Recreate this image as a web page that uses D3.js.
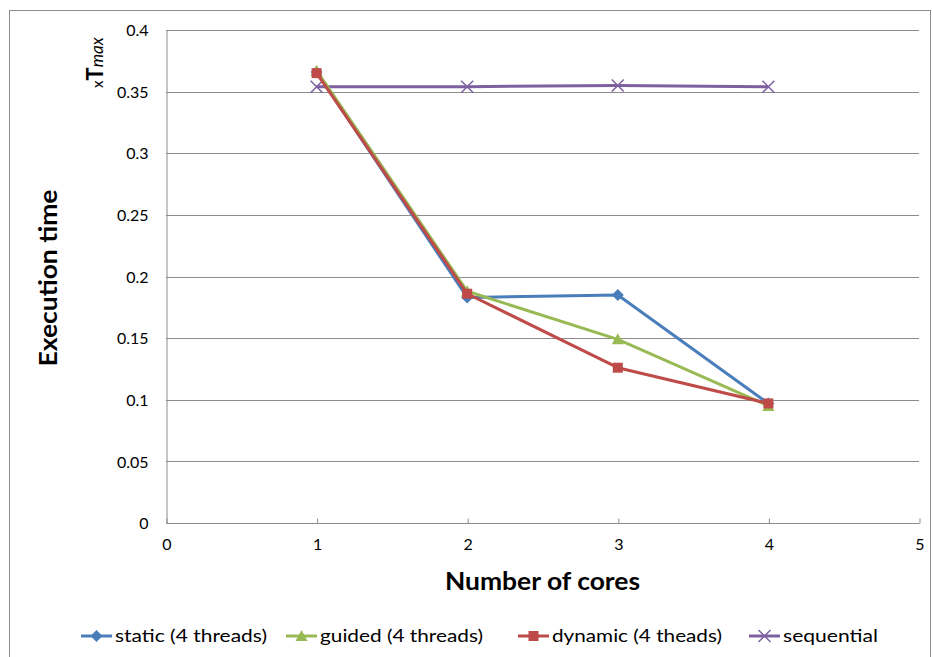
<!DOCTYPE html>
<html>
<head>
<meta charset="utf-8">
<script src="https://cdn.jsdelivr.net/npm/d3@7"></script>
<style>
body { margin: 0; background: #fff; }
svg text { font-family: Lato, "Open Sans", sans-serif; fill: #000; }
</style>
</head>
<body>
<div id="chart"></div>
<script>
var cores = [1, 2, 3, 4]
var staticVals = [0.366, 0.183, 0.185, 0.097]
var guidedVals = [0.367, 0.188, 0.149, 0.095]
var dynamicVals = [0.365, 0.186, 0.126, 0.097]
var sequentialVals = [0.354, 0.354, 0.355, 0.354]
var seriesNames = ['static (4 threads)', 'guided (4 threads)', 'dynamic (4 theads)', 'sequential']
var seriesColors = ['#4a7ebb', '#98b954', '#be4b48', '#7d60a0']
var seriesMarkers = ['diamond', 'triangle', 'square', 'cross']
var yTicks = [0, 0.05, 0.1, 0.15, 0.2, 0.25, 0.3, 0.35, 0.4]
var xTicks = [0, 1, 2, 3, 4, 5]

var W = 933, H = 657
var svg = d3.select('#chart').append('svg').attr('width', W).attr('height', H)

// outer chart border
svg.append('rect').attr('x', 9.5).attr('y', 10.5).attr('width', 921).attr('height', 660)
	.attr('fill', 'none').attr('stroke', '#8c8c8c')

var x = d3.scaleLinear().domain([0, 5]).range([166, 919])
var y = d3.scaleLinear().domain([0, 0.4]).range([523, 30])

// gridlines
svg.append('g').selectAll('line').data(yTicks.slice(1)).enter().append('line')
	.attr('x1', x(0)).attr('x2', x(5))
	.attr('y1', function(d){ return Math.round(y(d)) + 0.5 })
	.attr('y2', function(d){ return Math.round(y(d)) + 0.5 })
	.attr('stroke', '#8c8c8c').attr('stroke-width', 1)

// axes
var yAxis = svg.append('g').attr('transform', 'translate(' + (x(0) + 0.5) + ',0.5)')
	.call(d3.axisLeft(y).tickValues(yTicks).tickSize(0).tickPadding(18).tickFormat(function(d){ return d === 0 ? '0' : String(+d.toFixed(2)) }))
var xAxis = svg.append('g').attr('transform', 'translate(0.5,' + (y(0) + 0.5) + ')')
	.call(d3.axisBottom(x).tickValues(xTicks).tickSize(5).tickPadding(10).tickFormat(d3.format('d')))
;[yAxis, xAxis].forEach(function(a){
	a.select('.domain').attr('stroke', '#8c8c8c')
	a.selectAll('.tick line').attr('stroke', '#8c8c8c')
	a.selectAll('.tick text').style('font-size', '16px').attr('fill', '#000')
})
xAxis.selectAll('.tick line').attr('y1', 0).attr('y2', -5)
xAxis.select('.domain').attr('d', 'M' + x(0) + ',0H' + x(5))

// axis titles
svg.append('text').attr('transform', 'translate(57,' + 278 + ') rotate(-90)')
	.attr('text-anchor', 'middle').style('font-size', '24px').style('font-weight', 'bold')
	.attr('textLength', 177).attr('lengthAdjust', 'spacingAndGlyphs')
	.text('Execution time')
svg.append('text').attr('x', (x(0) + x(5)) / 2).attr('y', 590)
	.attr('text-anchor', 'middle').style('font-size', '24px').style('font-weight', 'bold')
	.attr('textLength', 195).attr('lengthAdjust', 'spacingAndGlyphs')
	.text('Number of cores')

// xTmax unit label
var unit = svg.append('text').attr('transform', 'translate(103,88) rotate(-90)')
unit.append('tspan').style('font-size', '15px').text('x')
unit.append('tspan').style('font-size', '22px').style('font-weight', 'bold').text('T')
unit.append('tspan').style('font-size', '17px').style('font-style', 'italic').text('max')

var allSeries = [staticVals, guidedVals, dynamicVals, sequentialVals]
var line = d3.line().x(function(d, i){ return x(cores[i]) }).y(function(d){ return y(d) })

function drawMarker(g, kind, cx, cy, color) {
	if (kind === 'diamond') {
		g.append('path').attr('d', 'M' + cx + ',' + (cy - 6) + 'L' + (cx + 6) + ',' + cy + 'L' + cx + ',' + (cy + 6) + 'L' + (cx - 6) + ',' + cy + 'Z').attr('fill', color)
	} else if (kind === 'triangle') {
		g.append('path').attr('d', 'M' + cx + ',' + (cy - 6) + 'L' + (cx + 6) + ',' + (cy + 5) + 'L' + (cx - 6) + ',' + (cy + 5) + 'Z').attr('fill', color)
	} else if (kind === 'square') {
		g.append('rect').attr('x', cx - 5).attr('y', cy - 5).attr('width', 10).attr('height', 10).attr('fill', color)
	} else {
		g.append('path').attr('d', 'M' + (cx - 6) + ',' + (cy - 6) + 'L' + (cx + 6) + ',' + (cy + 6) + 'M' + (cx + 6) + ',' + (cy - 6) + 'L' + (cx - 6) + ',' + (cy + 6))
			.attr('stroke', color).attr('stroke-width', 1.5).attr('fill', 'none')
	}
}

var drawOrder = [3, 0, 1, 2]
drawOrder.forEach(function(si){
	var g = svg.append('g')
	g.append('path').datum(allSeries[si]).attr('d', line)
		.attr('fill', 'none').attr('stroke', seriesColors[si]).attr('stroke-width', 3).attr('stroke-linejoin', 'round')
	allSeries[si].forEach(function(v, i){
		drawMarker(g, seriesMarkers[si], x(cores[i]), y(v), seriesColors[si])
	})
})

// legend
var legendX = [81, 286, 518, 749]
var legendW = [152, 163, 170, 95]
var legend = svg.append('g')
seriesNames.forEach(function(name, i){
	var lx = legendX[i], ly = 636
	legend.append('line').attr('x1', lx).attr('x2', lx + 31).attr('y1', ly).attr('y2', ly)
		.attr('stroke', seriesColors[i]).attr('stroke-width', 3)
	drawMarker(legend, seriesMarkers[i], lx + 15.5, ly, seriesColors[i])
	legend.append('text').attr('x', lx + 34).attr('y', ly + 6).style('font-size', '18px')
		.attr('textLength', legendW[i]).attr('lengthAdjust', 'spacingAndGlyphs').text(name)
})
</script>
</body>
</html>
